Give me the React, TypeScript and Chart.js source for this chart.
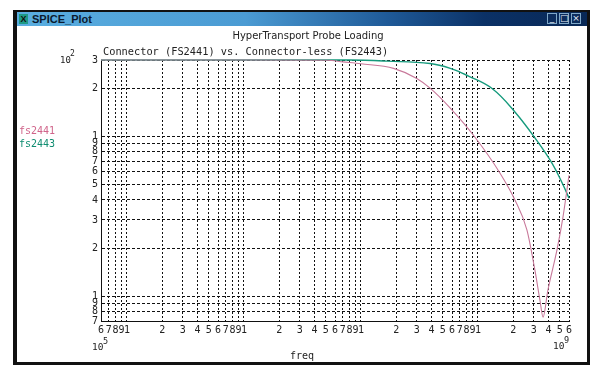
import React, { useEffect, useRef } from "react";
import { Chart, registerables } from "chart.js";

Chart.register(...registerables);

// ---- data ----
const pinkFreq = [6e5, 1e7, 5.2e7, 7e7, 1e8, 1.9e8, 3.0e8, 3.9e8, 5.8e8, 9.4e8, 1.54e9, 2.07e9, 2.62e9, 3.07e9, 3.39e9, 3.6e9, 3.96e9, 4.73e9, 5.32e9, 6e9];
const pinkVal = [300, 300, 299, 292, 284, 266, 230, 200, 150, 99, 59, 40, 26, 14.5, 9.4, 7.4, 10.9, 19.4, 31, 57];

const tealFreq = [6e5, 1e7, 8e7, 1.67e8, 3.9e8, 5.8e8, 8.3e8, 1.32e9, 2.07e9, 3.19e9, 4.29e9, 5.32e9, 6e9];
const tealVal = [300, 300, 300, 295, 285, 266, 238, 199, 142, 94, 68, 50, 41];

const xTicks = [
  6e5, 7e5, 8e5, 9e5,
  1e6, 2e6, 3e6, 4e6, 5e6, 6e6, 7e6, 8e6, 9e6,
  1e7, 2e7, 3e7, 4e7, 5e7, 6e7, 7e7, 8e7, 9e7,
  1e8, 2e8, 3e8, 4e8, 5e8, 6e8, 7e8, 8e8, 9e8,
  1e9, 2e9, 3e9, 4e9, 5e9, 6e9,
];
const yTicks = [7, 8, 9, 10, 20, 30, 40, 50, 60, 70, 80, 90, 100, 200, 300];

const seriesNames = ["fs2441", "fs2443"];
const chartTitle = "HyperTransport Probe Loading";
const chartSubtitle = "Connector (FS2441) vs. Connector-less (FS2443)";
const xAxisName = "freq";

const PINK = "#c8789a";
const TEAL = "#159a7c";
const MONO = "'DejaVu Sans Mono', monospace";

function mantissa(v: number): string {
  const e = Math.floor(Math.log10(v) + 1e-9);
  return String(Math.round(v / Math.pow(10, e)));
}

export default function App() {
  const ref = useRef<HTMLCanvasElement | null>(null);

  useEffect(() => {
    if (!ref.current) return;
    const chart = new Chart(ref.current, {
      type: "line",
      data: {
        datasets: [
          {
            label: seriesNames[0],
            data: pinkFreq.map((f, i) => ({ x: f, y: pinkVal[i] })),
            borderColor: PINK,
            borderWidth: 1.1,
            pointRadius: 0,
            cubicInterpolationMode: "monotone",
            clip: false as any,
          },
          {
            label: seriesNames[1],
            data: tealFreq.map((f, i) => ({ x: f, y: tealVal[i] })),
            borderColor: TEAL,
            borderWidth: 1.4,
            pointRadius: 0,
            tension: 0.4,
            clip: false as any,
          },
        ],
      },
      options: {
        responsive: false,
        animation: false,
        events: [],
        layout: { padding: { left: 87, top: 60, right: 34, bottom: 39 } },
        plugins: { legend: { display: false }, tooltip: { enabled: false }, title: { display: false } },
        scales: {
          x: {
            type: "logarithmic",
            min: 6e5,
            max: 6e9,
            afterBuildTicks: (s: any) => {
              s.ticks = xTicks.map((v) => ({ value: v }));
            },
            afterFit: (s: any) => {
              s.height = 16;
            },
            ticks: {
              autoSkip: false,
              maxRotation: 0,
              minRotation: 0,
              padding: 3,
              color: "#222",
              font: { family: MONO, size: 10 },
              callback: (v: any) => mantissa(Number(v)),
            },
            grid: { color: "#111", lineWidth: 1, drawTicks: false },
            border: { display: true, color: "#111", width: 1, dash: [2, 2] },
          },
          y: {
            type: "logarithmic",
            min: 7,
            max: 300,
            afterBuildTicks: (s: any) => {
              s.ticks = yTicks.map((v) => ({ value: v }));
            },
            afterFit: (s: any) => {
              s.width = 14;
            },
            ticks: {
              autoSkip: false,
              padding: 3,
              color: "#222",
              font: { family: MONO, size: 10 },
              callback: (v: any) => mantissa(Number(v)),
            },
            grid: { color: "#111", lineWidth: 1, drawTicks: false },
            border: { display: true, color: "#111", width: 1, dash: [3, 2] },
          },
        },
      },
    });
    return () => chart.destroy();
  }, []);

  const txt = (style: React.CSSProperties, content: React.ReactNode) => (
    <div style={{ position: "absolute", whiteSpace: "nowrap", lineHeight: 1, color: "#222", fontFamily: MONO, ...style }}>
      {content}
    </div>
  );

  return (
    <div style={{ position: "absolute", left: 0, top: 0, width: 603, height: 376, background: "#fff", overflow: "hidden" }}>
      {/* window frame */}
      <div
        style={{
          position: "absolute",
          left: 13,
          top: 10,
          width: 577,
          height: 355,
          boxSizing: "border-box",
          borderLeft: "4px solid #111",
          borderRight: "3px solid #111",
          borderBottom: "3px solid #111",
          borderTop: "2px solid #111",
          background: "#fff",
        }}
      />
      {/* title bar */}
      <div
        style={{
          position: "absolute",
          left: 17,
          top: 12,
          width: 570,
          height: 14,
          background: "linear-gradient(to right, #5aaee0 0%, #4b9bd3 40%, #1f5a98 65%, #0b3166 82%, #082856 100%)",
        }}
      >
        <div
          style={{
            position: "absolute",
            left: 2,
            top: 2,
            width: 9,
            height: 10,
            background: "#1e9a86",
            color: "#111",
            fontFamily: "'Liberation Sans', sans-serif",
            fontSize: 9,
            fontWeight: 700,
            lineHeight: "10px",
            textAlign: "center",
          }}
        >
          X
        </div>
        <div
          style={{
            position: "absolute",
            left: 15,
            top: 1,
            fontFamily: "'Liberation Sans', sans-serif",
            fontWeight: 700,
            fontSize: 11,
            lineHeight: "12px",
            color: "#0b1a2e",
          }}
        >
          SPICE_Plot
        </div>
        {["_", "□", "×"].map((g, i) => (
          <div
            key={i}
            style={{
              position: "absolute",
              left: 530 + i * 12,
              top: 1,
              width: 10,
              height: 11,
              border: "1px solid #7fa8c8",
              boxSizing: "border-box",
              background: "#0b2c5c",
              color: "#e8f0f8",
              fontFamily: "'DejaVu Sans', sans-serif",
              fontSize: 9,
              lineHeight: "9px",
              textAlign: "center",
            }}
          >
            {g}
          </div>
        ))}
      </div>

      <canvas ref={ref} width={603} height={376} style={{ position: "absolute", left: 0, top: 0 }} />

      {txt({ left: 0, width: 616, top: 31, textAlign: "center", fontFamily: "'DejaVu Sans', sans-serif", fontSize: 10 }, chartTitle)}
      {txt({ left: 103, top: 46, fontSize: 10.3 }, chartSubtitle)}
      {/* 10^2 */}
      {txt({ left: 60, top: 56, fontSize: 9 }, "10")}
      {txt({ left: 70, top: 50, fontSize: 8 }, "2")}
      {/* legend labels */}
      {txt({ left: 19, top: 126, fontSize: 10, color: "#d0648a" }, seriesNames[0])}
      {txt({ left: 19, top: 139, fontSize: 10, color: "#0e8c70" }, seriesNames[1])}
      {/* 10^5 */}
      {txt({ left: 92, top: 342, fontSize: 9.5 }, "10")}
      {txt({ left: 103, top: 337, fontSize: 8.5 }, "5")}
      {/* 10^9 */}
      {txt({ left: 553, top: 341, fontSize: 9.5 }, "10")}
      {txt({ left: 564, top: 336, fontSize: 8.5 }, "9")}
      {/* axis name */}
      {txt({ left: 290, top: 351, fontSize: 10 }, xAxisName)}
    </div>
  );
}
